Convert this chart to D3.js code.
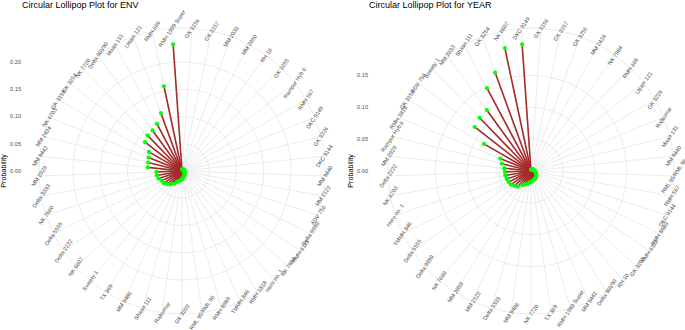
<!DOCTYPE html>
<html><head><meta charset="utf-8">
<script src="https://cdn.jsdelivr.net/npm/d3@7"></script>
<style>body{margin:0;background:#fff}svg{display:block}text{font-family:"Liberation Sans",Arial,sans-serif}</style>
</head><body><svg id="chart" width="685" height="330"></svg>
<script>
const envCategories = ["GK 3156","GK 3157","MM 2033","MM 2050","RH 10","GK 3255","Rampur Hyb 6","RMH 567","DKC 9149","GK 3226","DKC 9144","MM 9440","MM 2122","ADV 756","Delta 9999","RMH 6112","NK 7984","Hero no. 1","RMH 1818","TMMH 846","RMH 8989","RML 95/RML 96","GK 3203","Rajkumar","Shaan 111","MM 9486","TX 369","Sweety 1","NK 6607","Delta 2222","Delta 5555","NK 7660","Delta 3333","MM 2929","MM 9442","MM 2424","NK 6703","GK 3158","GK 3254","NK 7720","Delta 90V90","Maan 131","Uttam 121","RMH 666","RMH 1999 Super"];
const envValues = [0.003,0.003,0.003,0.003,0.003,0.004,0.004,0.004,0.004,0.004,0.005,0.005,0.005,0.005,0.005,0.006,0.006,0.007,0.009,0.010,0.011,0.013,0.015,0.017,0.019,0.022,0.027,0.032,0.036,0.040,0.041,0.045,0.047,0.047,0.063,0.064,0.066,0.070,0.086,0.091,0.092,0.098,0.113,0.159,0.233];
const envTicks = [0, 0.05, 0.10, 0.15, 0.20];

const yearCategories = ["GK 3156","GK 3157","GK 3255","MM 2424","NK 7984","RMH 666","Uttam 121","GK 3226","Rajkumar","Maan 131","MM 9440","RML 95/RML 96","RMH 567","DKC 9144","RMH 8989","RMH 6112","GK 3203","RH 10","Delta 90V90","MM 9442","RMH 1999 Super","TX 369","NK 7720","MM 9486","Delta 3333","MM 2122","MM 2050","NK 7660","Delta 9999","Delta 5555","TMMH 846","Hero no. 1","NK 6703","Delta 2222","MM 2929","Rampur Hyb 6","RMH 1818","GK 3158","ADV 756","Sweety 1","MM 2033","Shaan 111","GK 3254","NK 6607","DKC 9149"];
const yearValues = [0.002,0.002,0.003,0.003,0.003,0.003,0.004,0.004,0.004,0.005,0.005,0.006,0.007,0.008,0.009,0.010,0.011,0.012,0.013,0.014,0.015,0.016,0.017,0.018,0.021,0.023,0.026,0.032,0.035,0.038,0.039,0.040,0.041,0.041,0.042,0.047,0.052,0.085,0.112,0.116,0.118,0.147,0.164,0.197,0.199];
const yearTicks = [0, 0.05, 0.10, 0.15];

const titles = ["Circular Lollipop Plot for ENV", "Circular Lollipop Plot for YEAR"];
const yTitle = "Probability";

const svg = d3.select("#chart");
const GRID = "#E6E6E6", SEG = "#A52A2A", DOT = "#00FF00", TXT = "#4D4D4D";
const R_OUT = 143, R_DATA = 127;

function drawPanel(cats, vals, ticks, title, cx, cy, left) {
  const g = svg.append("g");
  const theta = d3.scaleBand().domain(cats).range([0, 2 * Math.PI]).padding(0);
  const ang = c => theta(c) + theta.bandwidth() / 2;
  const r = d3.scaleLinear().domain([0, d3.max(vals)]).range([0, R_DATA]);
  const P = (a, rad) => { const p = d3.pointRadial(a, rad); return [cx + p[0], cy + p[1]]; };

  g.selectAll("circle.grid").data(ticks.map(t => r(t)).concat([R_OUT])).join("circle")
    .attr("cx", cx).attr("cy", cy).attr("r", d => d)
    .attr("fill", "none").attr("stroke", GRID).attr("stroke-width", 0.8);
  g.selectAll("line.spoke").data(cats).join("line")
    .attr("x1", cx).attr("y1", cy)
    .attr("x2", d => P(ang(d), R_OUT)[0]).attr("y2", d => P(ang(d), R_OUT)[1])
    .attr("stroke", GRID).attr("stroke-width", 0.8);
  const data = cats.map((c, i) => ({c, v: vals[i]}));
  g.selectAll("line.seg").data(data).join("line")
    .attr("x1", cx).attr("y1", cy)
    .attr("x2", d => P(ang(d.c), r(d.v))[0]).attr("y2", d => P(ang(d.c), r(d.v))[1])
    .attr("stroke", SEG).attr("stroke-width", 1.6);
  g.selectAll("circle.dot").data(data).join("circle")
    .attr("cx", d => P(ang(d.c), r(d.v))[0]).attr("cy", d => P(ang(d.c), r(d.v))[1])
    .attr("r", 2.1).attr("fill", DOT);
  g.selectAll("text.cat").data(cats).join("text")
    .attr("transform", d => { const p = P(ang(d), R_OUT); return `translate(${p[0]},${p[1]}) rotate(-56)`; })
    .attr("text-anchor", "middle").attr("dominant-baseline", "central")
    .attr("font-size", 5.6).attr("fill", TXT).text(d => d);
  g.selectAll("text.tick").data(ticks).join("text")
    .attr("x", left + 21).attr("y", d => cy - r(d))
    .attr("text-anchor", "end").attr("dominant-baseline", "central")
    .attr("font-size", 5.6).attr("fill", TXT).text(d => d3.format(".2f")(d));
  g.append("text").attr("transform", `translate(${left + 6},${cy}) rotate(-90)`)
    .attr("text-anchor", "middle").attr("font-size", 7.2).attr("fill", "#000").text(yTitle);
  g.append("text").attr("x", left + 22).attr("y", 7.5).attr("font-size", 9).attr("fill", "#000").text(title);
}

drawPanel(envCategories, envValues, envTicks, titles[0], 182, 171, 0);
drawPanel(yearCategories, yearValues, yearTicks, titles[1], 531, 171, 347);
</script></body></html>
